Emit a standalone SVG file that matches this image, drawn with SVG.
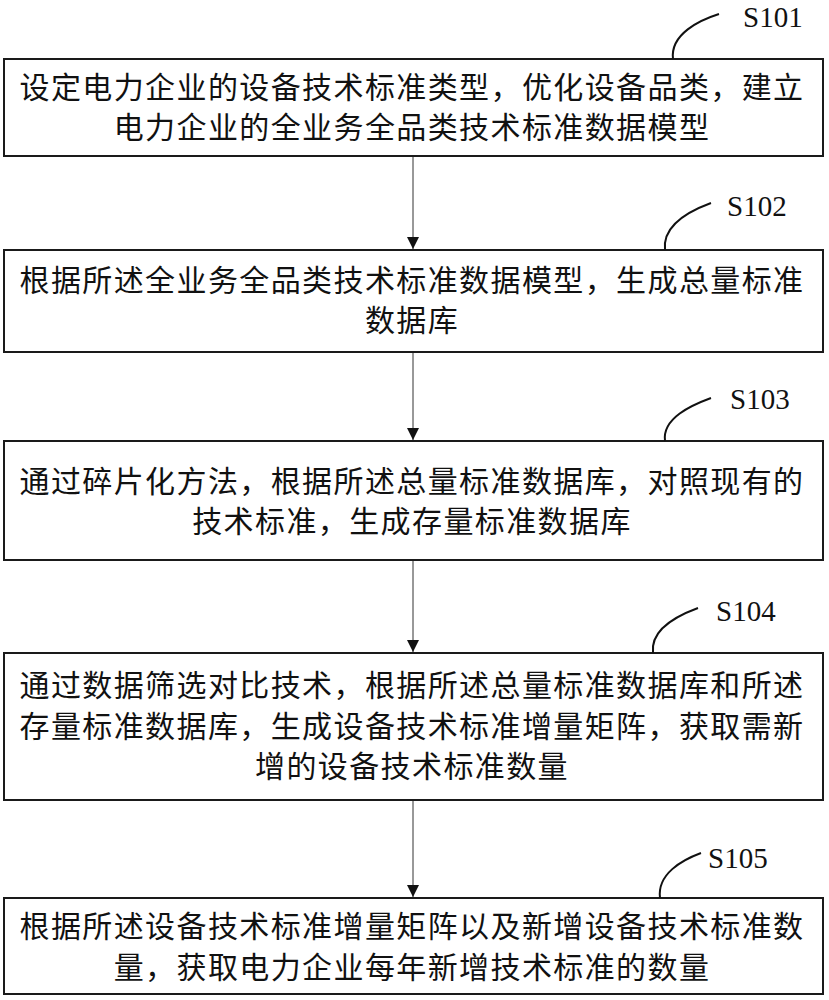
<svg xmlns="http://www.w3.org/2000/svg" width="829" height="1000" viewBox="0 0 829 1000">
<style>
.box{fill:#fff;stroke:#1a1a1a;stroke-width:2}
.t{font-family:"Noto Sans CJK SC","Noto Sans CJK JP",sans-serif;font-size:30px;letter-spacing:1.4px;fill:#111;text-anchor:middle}
.lbl{font-family:"Liberation Serif","Times New Roman",serif;font-size:29px;fill:#111}
.lead{fill:none;stroke:#111;stroke-width:2}
.conn{stroke:#333;stroke-width:1;fill:none}
</style>
<defs>
<marker id="ah" markerUnits="userSpaceOnUse" markerWidth="12" markerHeight="12" refX="12" refY="6" orient="auto">
<path d="M0,0 L12,6 L0,12 z" fill="#111"/>
</marker>
</defs>
<rect x="0" y="0" width="829" height="1000" fill="#fff"/>
<g id="connectors">
<line class="conn" x1="413" y1="157" x2="413" y2="249" marker-end="url(#ah)"/>
<line class="conn" x1="413" y1="353" x2="413" y2="440" marker-end="url(#ah)"/>
<line class="conn" x1="413" y1="561" x2="413" y2="652" marker-end="url(#ah)"/>
<line class="conn" x1="413" y1="801" x2="413" y2="897" marker-end="url(#ah)"/>
</g>
<g id="S101">
<rect class="box" x="4" y="59" width="819" height="97"/>
<path class="lead" d="M719,14 C700,20 670,34 673,59"/>
<text class="lbl" x="743" y="27">S101</text>
<text class="t" x="412" y="98">设定电力企业的设备技术标准类型，优化设备品类，建立</text>
<text class="t" x="412" y="138">电力企业的全业务全品类技术标准数据模型</text>
</g>
<g id="S102">
<rect class="box" x="4" y="250" width="819" height="102"/>
<path class="lead" d="M711,203 C692,210 662,224 665,250"/>
<text class="lbl" x="727" y="216">S102</text>
<text class="t" x="412" y="291">根据所述全业务全品类技术标准数据模型，生成总量标准</text>
<text class="t" x="412" y="331">数据库</text>
</g>
<g id="S103">
<rect class="box" x="4" y="441" width="819" height="119"/>
<path class="lead" d="M711,398 C692,405 662,418 665,441"/>
<text class="lbl" x="730" y="409">S103</text>
<text class="t" x="412" y="492">通过碎片化方法，根据所述总量标准数据库，对照现有的</text>
<text class="t" x="412" y="532">技术标准，生成存量标准数据库</text>
</g>
<g id="S104">
<rect class="box" x="4" y="653" width="819" height="147"/>
<path class="lead" d="M698,608 C679,615 650,629 653,653"/>
<text class="lbl" x="716" y="621">S104</text>
<text class="t" x="412" y="696">通过数据筛选对比技术，根据所述总量标准数据库和所述</text>
<text class="t" x="412" y="737">存量标准数据库，生成设备技术标准增量矩阵，获取需新</text>
<text class="t" x="412" y="777">增的设备技术标准数量</text>
</g>
<g id="S105">
<rect class="box" x="4" y="898" width="819" height="96"/>
<path class="lead" d="M701,853 C682,860 657,874 660,898"/>
<text class="lbl" x="708" y="868">S105</text>
<text class="t" x="412" y="937">根据所述设备技术标准增量矩阵以及新增设备技术标准数</text>
<text class="t" x="412" y="978">量，获取电力企业每年新增技术标准的数量</text>
</g>
</svg>
